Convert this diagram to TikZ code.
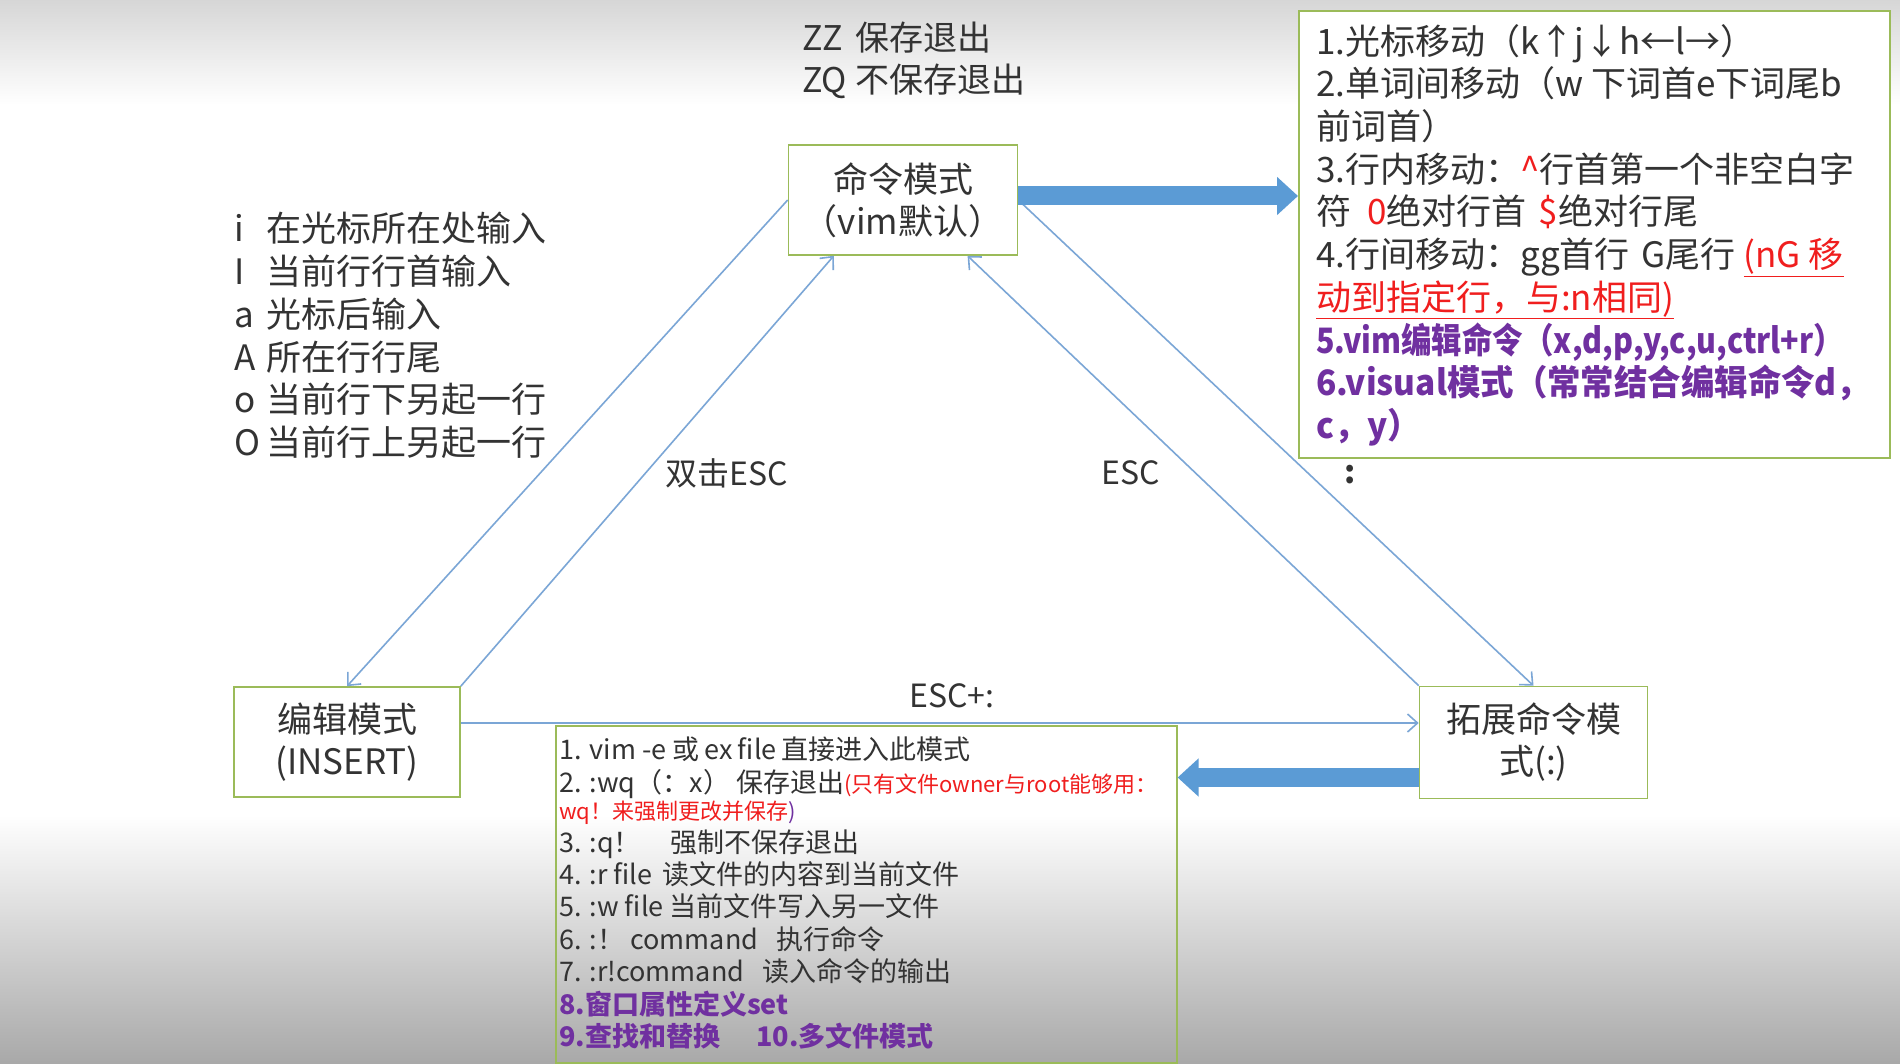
\documentclass[tikz,border=0pt]{standalone}
\usepackage{fontspec}
\setmainfont{Noto Sans CJK SC}
\usetikzlibrary{arrows.meta,calc}

\definecolor{boxgreen}{HTML}{9BBB59}
\definecolor{thinblue}{HTML}{7BA6D6}
\definecolor{thickblue}{HTML}{5B9BD5}
\definecolor{txt}{HTML}{333333}
\definecolor{hired}{HTML}{F01E1E}
\definecolor{vpurple}{HTML}{7030A0}

\newcommand\fsz[2]{\fontsize{#1}{#2}\selectfont}

\tikzset{
  modebox/.style={draw=boxgreen, line width=1.6pt, fill=white, align=center,
    inner sep=0pt, font=\fsz{35}{42}, text=txt},
  infobox/.style={draw=boxgreen, line width=1.6pt, inner sep=0pt},
  flowline/.style={draw=thinblue, line width=1.6pt,
    -{Straight Barb[length=10pt,width=18pt]}},
  bigarrow/.style={draw=thickblue, line width=19pt,
    -{Triangle[length=21pt,width=37pt]}},
  note/.style={align=left, inner sep=0pt, anchor=north west, text=txt},
  lbl/.style={inner sep=0pt, font=\fsz{32}{38}, text=txt},
}

\begin{document}
\begin{tikzpicture}[x=1pt,y=-1pt]
  % page background with the grey fades at top and bottom
  \fill[white] (0,0) rectangle (1900,1064);
  \shade[top color=black!16, bottom color=white] (0,0) rectangle (1900,105);
  \shade[top color=white, bottom color=black!34] (0,815) rectangle (1900,1064);
  \useasboundingbox (0,0) rectangle (1900,1064);

  % the three modes
  \node[modebox, minimum width=229pt, minimum height=110pt] (cmd) at (903,200)
    {命令模式\\（vim默认）};
  \node[modebox, minimum width=226pt, minimum height=110pt] (ins) at (347,742)
    {编辑模式\\(INSERT)};
  \node[modebox, minimum width=228pt, minimum height=112pt] (ext) at (1533.5,742.5)
    {拓展命令模\\式(:)};

  % frames of the two note panels
  \node[infobox, fill=white, minimum width=591pt, minimum height=447pt,
    anchor=north west] (rbox) at (1298,10) {};
  \node[infobox, minimum width=621pt, minimum height=337pt,
    anchor=north west] (bbox) at (555,725) {};

  % start points of the straight runs
  \coordinate (insout) at ($(ins.east)+(0,-19)$);
  \coordinate (cmdout) at ($(cmd.east)+(0,-4)$);
  \coordinate (extout) at ($(ext.west)+(0,35)$);

  % transitions between modes
  \draw[flowline] (cmd.west) -- (ins.north);
  \draw[flowline] (ins.north east) -- ($(cmd.south west)!0.2!(cmd.south east)$);
  \draw[flowline] (ext.north west) -- ($(cmd.south west)!0.78!(cmd.south east)$);
  \draw[flowline] (cmd.east) -- (ext.north);
  \draw[flowline] (insout) -- (insout -| ext.west);

  % block arrows to the note panels
  \draw[bigarrow] (cmdout) -- (cmdout -| rbox.west);
  \draw[bigarrow] (extout) -- (extout -| bbox.east);

  % transition labels
  \node[lbl] (dblesc) at (727,473) {双击ESC};
  \node[lbl] (esc) at (1131,473) {ESC};
  \node[lbl, font=\fsz{32}{38}\bfseries] (colon) at (1350,475) {:};
  \node[lbl] (escplus) at (952,696) {ESC+:};

  % quitting from command mode
  \node[note, font=\fsz{34}{42}] (zz) at (802,22)
    {\makebox[53pt][l]{ZZ}保存退出\\
     \makebox[53pt][l]{ZQ}不保存退出};

  % ways into insert mode
  \node[note, font=\fsz{35}{42.8}] (ilist) at (234,212)
    {\makebox[32pt][l]{i}在光标所在处输入\\
     \makebox[32pt][l]{I}当前行行首输入\\
     \makebox[32pt][l]{a}光标后输入\\
     \makebox[32pt][l]{A}所在行行尾\\
     \makebox[32pt][l]{o}当前行下另起一行\\
     \makebox[32pt][l]{O}当前行上另起一行};

  % command mode notes
  \node[note, font=\fsz{35}{42.7}] (rtext) at (1316,24)
    {1.光标移动（k↑j↓h←l→）\\
     2.单词间移动（w 下词首e下词尾b\\
     前词首）\\
     3.行内移动：{\color{hired}\textasciicircum}行首第一个非空白字\\
     符\hspace{16pt}{\color{hired}0}绝对行首\hspace{12pt}{\color{hired}\$}绝对行尾\\
     4.行间移动：gg首行\hspace{12pt}G尾行 {\color{hired}\underline{(nG 移}}\\
     {\color{hired}\underline{动到指定行，与:n相同)}}\\
     {\color{vpurple}\bfseries\scalebox{0.87}[1]{5.vim编辑命令（x,d,p,y,c,u,ctrl+r）}}\\
     {\color{vpurple}\bfseries\scalebox{0.955}[1]{6.visual模式（常常结合编辑命令d，}}\\
     {\color{vpurple}\bfseries\scalebox{0.955}[1]{c，y）}}};

  % extended command mode notes
  \node[note, font=\fsz{27}{32.4}] (btext) at (559,737)
    {1. vim -e 或\hspace{5pt}ex\hspace{5pt}file\hspace{5pt}直接进入此模式\\
     2. :wq（：x） 保存退出{\color{hired}\fsz{22}{32.4}(只有文件owner与root能够用：}\\[-5pt]
     {\color{hired}\fsz{22}{27}wq！来强制更改并保存}{\color{vpurple}\fsz{22}{27})}\\
     3. :q！\hspace{30pt}强制不保存退出\\
     4. :r file\hspace{10pt}读文件的内容到当前文件\\
     5. :w file 当前文件写入另一文件\\
     6. :！ command\hspace{18pt}执行命令\\
     7. :r!command\hspace{18pt}读入命令的输出\\
     {\color{vpurple}\bfseries 8.窗口属性定义set}\\
     {\color{vpurple}\bfseries 9.查找和替换\hspace{36pt}10.多文件模式}};
\end{tikzpicture}
\end{document}
